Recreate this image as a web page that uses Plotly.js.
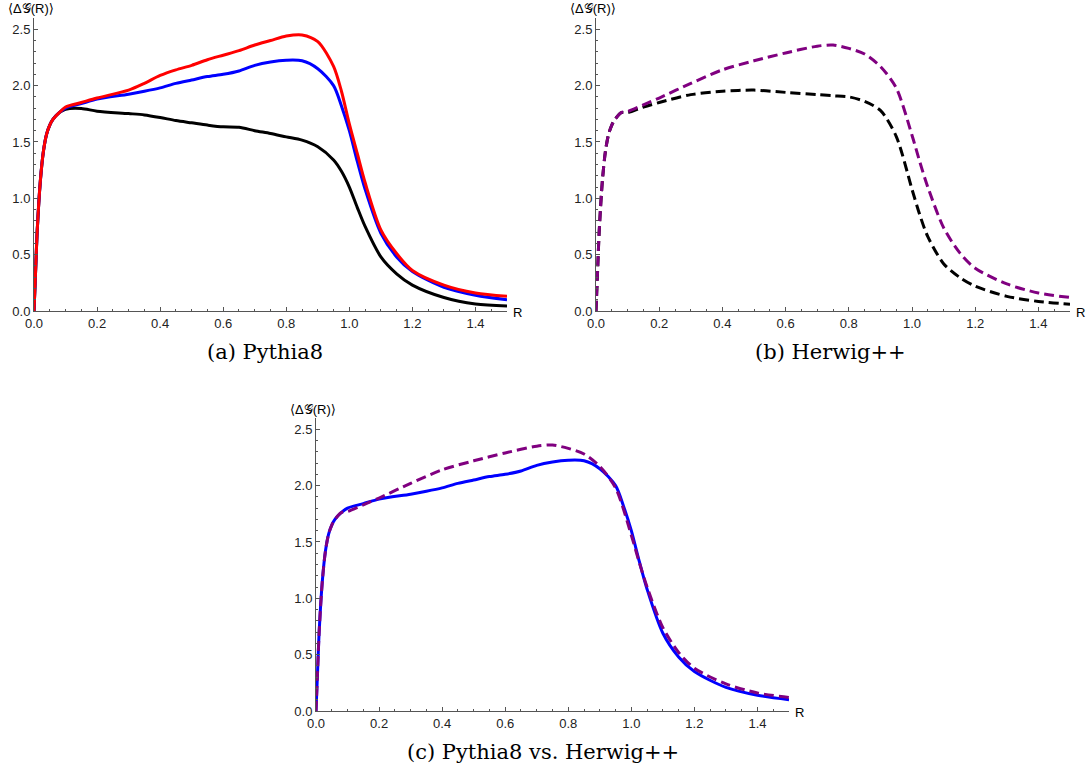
<!DOCTYPE html>
<html>
<head>
<meta charset="utf-8">
<script src="https://cdn.plot.ly/plotly-3.0.1.min.js"></script>
<style>html,body{margin:0;padding:0;background:#fff;}#chart{width:1090px;height:778px;}</style>
</head>
<body>
<div id="chart"></div>
<script>
// ---- Data ----
const rRise = [0, 0.005, 0.01, 0.02, 0.03, 0.04, 0.05, 0.06, 0.08];
const riseVals = [0, 0.35, 0.7, 1.15, 1.42, 1.57, 1.65, 1.70, 1.76];

const rA = [0.1, 0.15, 0.2, 0.3, 0.35, 0.4, 0.45, 0.5, 0.55, 0.6, 0.65, 0.7, 0.75, 0.8, 0.85, 0.9, 0.95, 0.975, 1.0, 1.025, 1.05, 1.1, 1.15, 1.2, 1.3, 1.4, 1.5];
const pythiaRed = [1.81, 1.85, 1.89, 1.96, 2.02, 2.09, 2.14, 2.18, 2.23, 2.27, 2.31, 2.36, 2.40, 2.44, 2.45, 2.39, 2.17, 1.95, 1.66, 1.40, 1.14, 0.72, 0.51, 0.36, 0.23, 0.16, 0.13];
const pythiaBlue = [1.80, 1.84, 1.88, 1.924, 1.95, 1.98, 2.02, 2.05, 2.08, 2.10, 2.13, 2.18, 2.21, 2.225, 2.22, 2.15, 2.00, 1.82, 1.60, 1.33, 1.08, 0.69, 0.48, 0.35, 0.21, 0.14, 0.10];
const pythiaBlack = [1.79, 1.797, 1.773, 1.752, 1.74, 1.717, 1.69, 1.67, 1.65, 1.634, 1.63, 1.60, 1.575, 1.545, 1.516, 1.457, 1.34, 1.24, 1.10, 0.92, 0.75, 0.48, 0.33, 0.23, 0.12, 0.062, 0.044];

const rB = [0.1, 0.15, 0.2, 0.3, 0.4, 0.5, 0.6, 0.7, 0.75, 0.8, 0.85, 0.9, 0.95, 1.0, 1.025, 1.05, 1.1, 1.15, 1.2, 1.3, 1.4, 1.5];
const herwigPurple = [1.77, 1.83, 1.89, 2.02, 2.14, 2.22, 2.29, 2.35, 2.36, 2.33, 2.28, 2.17, 1.98, 1.56, 1.32, 1.10, 0.74, 0.52, 0.38, 0.24, 0.16, 0.12];
const herwigBlack = [1.76, 1.81, 1.85, 1.92, 1.95, 1.96, 1.94, 1.92, 1.91, 1.90, 1.86, 1.78, 1.55, 1.08, 0.85, 0.66, 0.42, 0.30, 0.22, 0.13, 0.085, 0.06];

const xTicks = [0, 0.2, 0.4, 0.6, 0.8, 1.0, 1.2, 1.4];
const xTickText = ["0.0", "0.2", "0.4", "0.6", "0.8", "1.0", "1.2", "1.4"];
const yTicks = [0, 0.5, 1.0, 1.5, 2.0, 2.5];
const yTickText = ["0.0", "0.5", "1.0", "1.5", "2.0", "2.5"];
const captions = ["(a) Pythia8", "(b) Herwig++", "(c) Pythia8 vs. Herwig++"];
const yLabel = "⟨Δ𝒢(R)⟩";
const xLabel = "R";

// ---- Build ----
const fullX = a => rRise.concat(a);
const fullY = a => riseVals.concat(a);
const xs = fullX(rA), xsB = fullX(rB);

function tr(x, y, color, dash, xa, ya) {
  return {x: x, y: y, type: 'scatter', mode: 'lines', xaxis: xa, yaxis: ya,
    line: {color: color, width: 3, dash: dash, shape: 'spline', smoothing: 0.8},
    hoverinfo: 'skip', showlegend: false};
}
const data = [
  tr(xs, fullY(pythiaBlack), '#000000', 'solid', 'x', 'y'),
  tr(xs, fullY(pythiaBlue), '#0000ff', 'solid', 'x', 'y'),
  tr(xs, fullY(pythiaRed), '#ff0000', 'solid', 'x', 'y'),
  tr(xsB, fullY(herwigBlack), '#000000', '10px,5px', 'x2', 'y2'),
  tr(xsB, fullY(herwigPurple), '#800080', '10px,5px', 'x2', 'y2'),
  tr(xs, fullY(pythiaBlue), '#0000ff', 'solid', 'x3', 'y3'),
  tr(xsB, fullY(herwigPurple), '#800080', '10px,5px', 'x3', 'y3')
];

const W = 1090, H = 778;
const tickFont = {family: 'Liberation Sans, Arial, sans-serif', size: 13, color: '#222'};
function xax(d, anchor) {
  return {domain: d, anchor: anchor, range: [0, 1.5], showgrid: false, zeroline: false,
    showline: true, linecolor: '#555', linewidth: 1, ticks: 'inside', ticklen: 4, tickcolor: '#555',
    tickvals: xTicks, ticktext: xTickText, tickfont: tickFont, ticklabelstandoff: 0,
    minor: {dtick: 0.05, tick0: 0, ticks: 'inside', ticklen: 2, tickcolor: '#555', showgrid: false}};
}
function yax(d, anchor) {
  return {domain: d, anchor: anchor, range: [0, 2.6], showgrid: false, zeroline: false,
    showline: true, linecolor: '#555', linewidth: 1, ticks: 'inside', ticklen: 4, tickcolor: '#555',
    tickvals: yTicks, ticktext: yTickText, tickfont: tickFont, ticklabelstandoff: 0,
    minor: {dtick: 0.1, tick0: 0, ticks: 'inside', ticklen: 2, tickcolor: '#555', showgrid: false}};
}
const topY = [1 - 311 / H, 1 - 18 / H];
const botY = [1 - 711 / H, 1 - 418 / H];
const axA = [34 / W, 507 / W], axB = [596 / W, 1070 / W], axC = [316 / W, 789 / W];

function ann(text, x, y, size, family, xanchor) {
  return {text: text, x: x / W, y: 1 - y / H, xref: 'paper', yref: 'paper', showarrow: false,
    xanchor: xanchor || 'center', yanchor: 'middle', font: {family: family, size: size, color: '#000'}};
}
const sans = 'Liberation Sans, Arial, DejaVu Sans, sans-serif';
const serif = 'DejaVu Serif, Liberation Serif, serif';
const annotations = [
  ann(yLabel, 31, 9, 13, sans), ann(yLabel, 593, 9, 13, sans), ann(yLabel, 313, 409, 13, sans),
  ann(xLabel, 511, 312, 13, sans, 'left'), ann(xLabel, 1074, 312, 13, sans, 'left'), ann(xLabel, 793, 712, 13, sans, 'left'),
  ann(captions[0], 265, 352, 21, serif), ann(captions[1], 830, 352, 21, serif), ann(captions[2], 543, 752, 21, serif)
];

const layout = {
  width: W, height: H, margin: {l: 0, r: 0, t: 0, b: 0},
  paper_bgcolor: '#fff', plot_bgcolor: '#fff', showlegend: false,
  xaxis: xax(axA, 'y'), yaxis: yax(topY, 'x'),
  xaxis2: xax(axB, 'y2'), yaxis2: yax(topY, 'x2'),
  xaxis3: xax(axC, 'y3'), yaxis3: yax(botY, 'x3'),
  annotations: annotations
};
Plotly.newPlot('chart', data, layout, {displayModeBar: false, staticPlot: true});
</script>
</body>
</html>
